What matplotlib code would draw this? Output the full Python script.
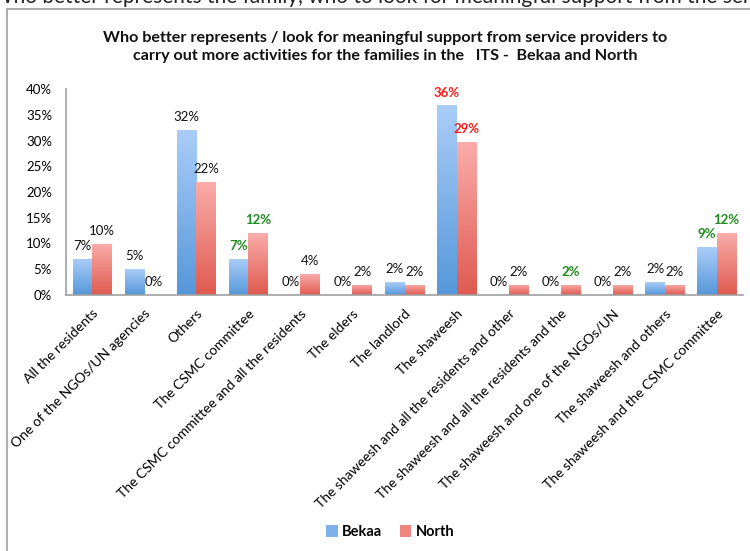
import numpy as np
import matplotlib
matplotlib.use("Agg")
import matplotlib.pyplot as plt
from matplotlib.patches import Rectangle, Patch
from matplotlib.colors import to_rgb

plt.rcParams['font.family'] = ['Lato', 'DejaVu Sans']

categories = [
    "All the residents",
    "One of the NGOs/UN agencies",
    "Others",
    "The CSMC committee",
    "The CSMC committee and all the residents",
    "The elders",
    "The landlord",
    "The shaweesh",
    "The shaweesh and all the residents and other",
    "The shaweesh and all the residents and the",
    "The shaweesh and one of the NGOs/UN",
    "The shaweesh and others",
    "The shaweesh and the CSMC committee",
]
bekaa = [7, 5, 32, 7, 0, 0, 2.5, 36.8, 0, 0, 0, 2.5, 9.3]
north = [10, 0, 22, 12, 4, 2, 2, 29.8, 2, 2, 2, 2, 12]
bekaa_labels = ["7%", "5%", "32%", "7%", "0%", "0%", "2%", "36%", "0%", "0%", "0%", "2%", "9%"]
north_labels = ["10%", "0%", "22%", "12%", "4%", "2%", "2%", "29%", "2%", "2%", "2%", "2%", "12%"]

# highlighted labels (index -> colour)
bekaa_hl = {3: "#1E8C1E", 7: "#FF1A1A", 12: "#1E8C1E"}
north_hl = {3: "#1E8C1E", 7: "#FF1A1A", 9: "#1E8C1E", 12: "#1E8C1E"}

title = ("Who better represents / look for meaningful support from service providers to\n"
         "carry out more activities for the families in the   ITS -  Bekaa and North")

fig = plt.figure(figsize=(7.5, 5.51), dpi=100)
W, H = 750, 551

# cropped document text at the very top (only its lower part shows)
fig.text(-0.01, 1 - 3 / H, "Who better represents the family, who to look for meaningful support from the service",
         fontsize=15, ha='left', va='baseline', color='#222222')

# chart frame
fig.patches.append(Rectangle((7 / W, -0.1), 1.2, 1.1 - 9 / H, transform=fig.transFigure,
                             fill=False, edgecolor='#A6A6A6', linewidth=1.3))

fig.text(385 / W, 1 - 47 / H, title, fontsize=11.6, fontweight='bold', ha='center',
         va='center', linespacing=1.45, color='#111111')

ax = fig.add_axes([66 / W, 1 - 295 / H, (743 - 66) / W, (295 - 89) / H])

x = np.arange(len(categories))
bw = 0.375


def grad_bars(xs, vals, top, bottom):
    bars = ax.bar(xs, vals, bw, facecolor='none', edgecolor='none')
    t = np.array(to_rgb(top))
    b = np.array(to_rgb(bottom))
    g = np.linspace(0, 1, 128)[:, None, None]
    img = b + (t - b) * g
    for p in bars:
        if p.get_height() <= 0:
            continue
        x0 = p.get_x()
        im = ax.imshow(img, extent=[x0, x0 + p.get_width(), 0, p.get_height()],
                       origin='lower', aspect='auto', zorder=2)
        im.set_clip_path(p)
    return bars


b1 = grad_bars(x - bw / 2, bekaa, "#AACDF8", "#5597DA")
b2 = grad_bars(x + bw / 2, north, "#FAADAA", "#DF5A50")

for i in range(len(categories)):
    c = bekaa_hl.get(i, "#111111")
    ax.annotate(bekaa_labels[i], (x[i] - bw / 2, bekaa[i]), xytext=(0, 5),
                textcoords='offset points', ha='center', va='bottom', fontsize=9.5,
                color=c, fontweight='bold' if i in bekaa_hl else 'normal')
    c = north_hl.get(i, "#111111")
    ax.annotate(north_labels[i], (x[i] + bw / 2, north[i]), xytext=(0, 5),
                textcoords='offset points', ha='center', va='bottom', fontsize=9.5,
                color=c, fontweight='bold' if i in north_hl else 'normal')

ax.set_xlim(-0.5, len(categories) - 0.5)
ax.set_ylim(0, 40)
ax.set_yticks(range(0, 41, 5))
ax.set_yticklabels([f"{v}%" for v in range(0, 41, 5)], fontsize=9.5)
ax.set_xticks(x)
ax.set_xticklabels(categories, rotation=45, ha='right', va='top', rotation_mode='anchor',
                   fontsize=10)
ax.tick_params(axis='y', length=0, pad=10)
ax.tick_params(axis='x', length=0, pad=9)
for s in ['top', 'right']:
    ax.spines[s].set_visible(False)
for s in ['left', 'bottom']:
    ax.spines[s].set_color('#A0A0A0')
    ax.spines[s].set_linewidth(1.2)

handles = [Patch(facecolor="#7FB2EA", label="Bekaa"), Patch(facecolor="#EE8580", label="North")]
fig.legend(handles=handles, loc='center', bbox_to_anchor=(390 / W, 1 - 532 / H), ncol=2,
           frameon=False, prop={'weight': 'bold', 'size': 10.5}, handlelength=0.8,
           handleheight=0.8, handletextpad=0.3, columnspacing=1.2)

fig.savefig("out.png", dpi=100)
